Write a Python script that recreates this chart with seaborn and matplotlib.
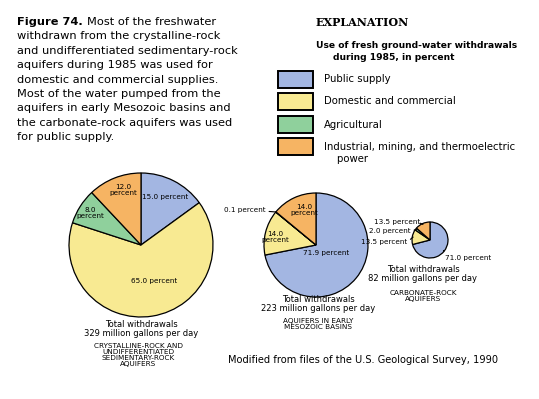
import numpy as np
import matplotlib
matplotlib.use("Agg")
import matplotlib.pyplot as plt
from matplotlib.patches import Rectangle
import seaborn as sns

# ---------------- data ----------------
categories = ["Public supply", "Domestic and commercial", "Agricultural",
              "Industrial, mining, and thermoelectric\n    power"]
crystalline_pct = [15.0, 65.0, 8.0, 12.0]
mesozoic_pct = [71.9, 14.0, 0.1, 14.0]
carbonate_pct = [71.0, 13.5, 2.0, 13.5]
totals_mgd = [329, 223, 82]
aquifer_names = ["CRYSTALLINE-ROCK AND\nUNDIFFERENTIATED\nSEDIMENTARY-ROCK\nAQUIFERS",
                 "AQUIFERS IN EARLY\nMESOZOIC BASINS",
                 "CARBONATE-ROCK\nAQUIFERS"]
palette = ["#A3B6E2", "#F8EA92", "#8FD09C", "#F6B463"]

title_lines = ["withdrawn from the crystalline-rock",
               "and undifferentiated sedimentary-rock",
               "aquifers during 1985 was used for",
               "domestic and commercial supplies.",
               "Most of the water pumped from the",
               "aquifers in early Mesozoic basins and",
               "the carbonate-rock aquifers was used",
               "for public supply."]

# ---------------- figure ----------------
sns.set_theme(style="white")
plt.rcParams["font.family"] = ["DejaVu Sans"]
plt.rcParams["text.color"] = "black"
W, H = 539, 399
fig = plt.figure(figsize=(W / 100, H / 100), dpi=100)
ax = fig.add_axes([0, 0, 1, 1])
colors = sns.color_palette(palette)


def Y(py):
    return H - py


def pie(values, cx, cy, r):
    ax.pie(values, center=(cx, Y(cy)), radius=r, startangle=90,
           counterclock=False, colors=colors, frame=True,
           wedgeprops=dict(edgecolor="black", linewidth=0.9))


def mid_point(values, i, cx, cy, r, f=1.0):
    tot = sum(values)
    start = 90 - 360 * sum(values[:i]) / tot
    ang = np.deg2rad(start - 180 * values[i] / tot)
    return (cx + f * r * np.cos(ang), Y(cy) + f * r * np.sin(ang))


def txt(x, y, s, size=5.2, **kw):
    kw.setdefault("ha", "center")
    kw.setdefault("va", "center")
    kw.setdefault("color", "black")
    ax.text(x, Y(y), s, fontsize=size, **kw)


def pct(v):
    return f"{v:.1f} percent"


# Pie 1: crystalline
c1 = (141, 245, 72)
pie(crystalline_pct, *c1)
txt(165, 197, pct(crystalline_pct[0]))
txt(154, 281, pct(crystalline_pct[1]))
txt(90, 213, f"{crystalline_pct[2]:.1f}\npercent", linespacing=1.0)
txt(123, 190, f"{crystalline_pct[3]:.1f}\npercent", linespacing=1.0)
txt(141, 329, f"Total withdrawals\n{totals_mgd[0]} million gallons per day", size=6, linespacing=0.95)
txt(138, 355, aquifer_names[0], size=5.2, linespacing=1.0)

# Pie 2: mesozoic
c2 = (316, 245, 52)
pie(mesozoic_pct, *c2)
txt(326, 253, pct(mesozoic_pct[0]))
txt(275, 237, f"{mesozoic_pct[1]:.1f}\npercent", linespacing=1.0)
txt(304, 210, f"{mesozoic_pct[3]:.1f}\npercent", linespacing=1.0)
ax.annotate(pct(mesozoic_pct[2]), xy=mid_point(mesozoic_pct, 2, *c2),
            xytext=(245, Y(210)), fontsize=5.2, ha="center", va="center", color="black",
            arrowprops=dict(arrowstyle="-", lw=0.8, color="black",
                            shrinkA=0, shrinkB=0, relpos=(1.0, 0.3)))
txt(318, 304, f"Total withdrawals\n{totals_mgd[1]} million gallons per day", size=6, linespacing=0.95)
txt(318, 324, aquifer_names[1], size=5.2, linespacing=1.0)

# Pie 3: carbonate
c3 = (430, 240, 18)
pie(carbonate_pct, *c3)
lab3 = [((468, 258), (0.0, 0.7)), ((384, 242), (1.0, 0.5)),
        ((390, 231), (1.0, 0.5)), ((397, 222), (1.0, 0.3))]
for i, ((lx, ly), rp) in enumerate(lab3):
    ax.annotate(pct(carbonate_pct[i]), xy=mid_point(carbonate_pct, i, *c3, f=0.95),
                xytext=(lx, Y(ly)), fontsize=5.2, ha="center", va="center", color="black",
                arrowprops=dict(arrowstyle="-", lw=0.8, color="black",
                                shrinkA=0, shrinkB=0, relpos=rp))
txt(423, 274, f"Total withdrawals\n{totals_mgd[2]} million gallons per day", size=6, linespacing=0.95)
txt(423, 296, aquifer_names[2], size=5.2, linespacing=1.0)

# Title block
txt(17, 22, "Figure 74.", size=8.2, ha="left", fontweight="bold")
txt(87, 22, "Most of the freshwater", size=8.2, ha="left")
for i, line in enumerate(title_lines):
    txt(17, 22 + (i + 1) * 14.4, line, size=8.2, ha="left")

# Explanation / legend
txt(316, 23, "EXPLANATION", size=8, ha="left", fontweight="bold", family=["DejaVu Serif"])
txt(316, 46, "Use of fresh ground-water withdrawals", size=6.6, ha="left", fontweight="bold")
txt(333, 58, "during 1985, in percent", size=6.6, ha="left", fontweight="bold")
box_tops = [71, 93, 116, 138]
for i, cat in enumerate(categories):
    ax.add_patch(Rectangle((278, Y(box_tops[i] + 17)), 35, 17, facecolor=colors[i],
                           edgecolor="black", linewidth=1.4))
    txt(324, box_tops[i] + 8.5 + (6 if "\n" in cat else 0), cat, size=7.3, ha="left",
        linespacing=1.25)

txt(228, 360, "Modified from files of the U.S. Geological Survey, 1990", size=7.1, ha="left")

ax.set_xlim(0, W)
ax.set_ylim(0, H)
ax.set_aspect("equal")
ax.axis("off")
fig.savefig("out.png", dpi=100, facecolor="white")
